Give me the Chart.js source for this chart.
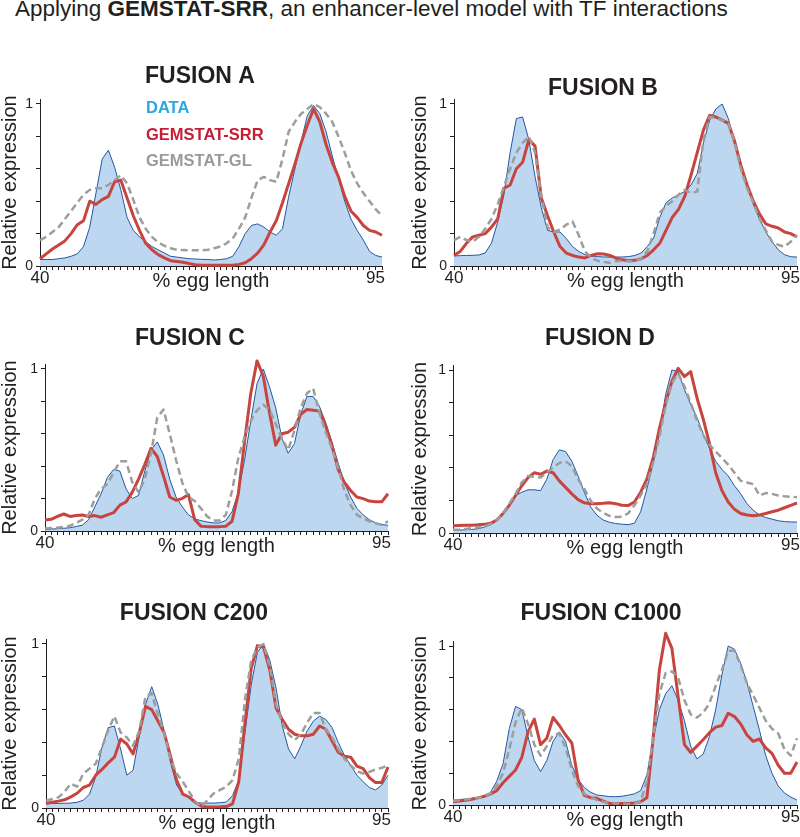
<!DOCTYPE html>
<html>
<head>
<meta charset="utf-8">
<script src="https://cdn.jsdelivr.net/npm/chart.js@4.4.1/dist/chart.umd.min.js"></script>
<style>
  html, body { margin: 0; padding: 0; background: #fff; }
  #page { position: relative; width: 800px; height: 837px; overflow: hidden;
          font-family: "Liberation Sans", Arial, Helvetica, sans-serif; color: #231f20; }
  #head { position: absolute; left: 15px; top: -2px; font-size: 22.5px; line-height: 1; white-space: nowrap; }
  canvas { position: absolute; }
</style>
</head>
<body>
<div id="page">
  <div id="head">Applying <b>GEMSTAT-SRR</b>, an enhancer-level model with TF interactions</div>
</div>
<script>
/* ---- data (1% egg-length bins) ---- */
const EGG_LENGTH = [40, 41, 42, 43, 44, 45, 46, 47, 48, 49, 50, 51, 52, 53, 54, 55, 56, 57, 58, 59,
  60, 61, 62, 63, 64, 65, 66, 67, 68, 69, 70, 71, 72, 73, 74, 75, 76, 77, 78, 79,
  80, 81, 82, 83, 84, 85, 86, 87, 88, 89, 90, 91, 92, 93, 94, 95];
const X_TICK_LABELS = [40, 95];
const Y_TICKS = [0, 0.2, 0.4, 0.6, 0.8, 1];
const Y_TICK_LABELS = [0, 1];
const SERIES_NAMES = ["DATA", "GEMSTAT-SRR", "GEMSTAT-GL"];
const PANEL_TITLES = ["FUSION A", "FUSION B", "FUSION C", "FUSION D", "FUSION C200", "FUSION C1000"];

const A_DATA = [0.04, 0.04, 0.04, 0.045, 0.05, 0.06, 0.075, 0.12, 0.24, 0.45, 0.66, 0.715, 0.61, 0.47, 0.30, 0.22, 0.18, 0.15, 0.12, 0.10,
  0.08, 0.06, 0.055, 0.05, 0.045, 0.043, 0.041, 0.04, 0.037, 0.04, 0.045, 0.06, 0.12, 0.20, 0.25, 0.26, 0.24, 0.21, 0.19, 0.23,
  0.43, 0.60, 0.77, 0.93, 0.99, 0.94, 0.83, 0.68, 0.54, 0.40, 0.29, 0.22, 0.16, 0.09, 0.065, 0.055];
const A_SRR = [0.045, 0.075, 0.105, 0.13, 0.155, 0.20, 0.255, 0.28, 0.40, 0.38, 0.41, 0.43, 0.52, 0.53, 0.42, 0.31, 0.22, 0.14, 0.10, 0.07,
  0.05, 0.033, 0.028, 0.023, 0.015, 0.008, 0.004, 0.004, 0.004, 0.004, 0.004, 0.005, 0.01, 0.02, 0.045, 0.08, 0.13, 0.21, 0.28, 0.39,
  0.51, 0.63, 0.76, 0.87, 0.97, 0.89, 0.75, 0.64, 0.55, 0.43, 0.34, 0.30, 0.25, 0.22, 0.21, 0.19];
const A_GL = [0.16, 0.18, 0.21, 0.24, 0.29, 0.34, 0.39, 0.44, 0.47, 0.48, 0.48, 0.50, 0.53, 0.56, 0.51, 0.41, 0.30, 0.23, 0.18, 0.145,
  0.125, 0.11, 0.10, 0.098, 0.097, 0.097, 0.097, 0.10, 0.11, 0.12, 0.14, 0.17, 0.23, 0.30, 0.42, 0.53, 0.55, 0.53, 0.52, 0.66,
  0.83, 0.89, 0.94, 0.97, 1.0, 0.98, 0.94, 0.89, 0.80, 0.70, 0.59, 0.51, 0.45, 0.40, 0.35, 0.31];

const B_DATA = [0.062, 0.064, 0.065, 0.066, 0.068, 0.08, 0.14, 0.27, 0.44, 0.70, 0.91, 0.92, 0.78, 0.55, 0.36, 0.22, 0.21, 0.21, 0.17, 0.12,
  0.09, 0.07, 0.062, 0.058, 0.056, 0.055, 0.055, 0.056, 0.058, 0.065, 0.08, 0.12, 0.17, 0.30, 0.39, 0.42, 0.44, 0.46, 0.50, 0.57,
  0.76, 0.90, 0.97, 1.0, 0.91, 0.76, 0.62, 0.49, 0.38, 0.29, 0.21, 0.15, 0.10, 0.07, 0.057, 0.055];
const B_SRR = [0.066, 0.09, 0.14, 0.18, 0.19, 0.20, 0.24, 0.29, 0.48, 0.50, 0.60, 0.64, 0.78, 0.74, 0.42, 0.31, 0.21, 0.12, 0.08, 0.065,
  0.055, 0.05, 0.065, 0.076, 0.074, 0.065, 0.048, 0.038, 0.032, 0.035, 0.045, 0.065, 0.10, 0.14, 0.22, 0.30, 0.35, 0.43, 0.56, 0.70,
  0.84, 0.93, 0.92, 0.90, 0.88, 0.77, 0.62, 0.50, 0.40, 0.32, 0.26, 0.245, 0.235, 0.21, 0.20, 0.18];
const B_GL = [0.16, 0.18, 0.16, 0.15, 0.18, 0.23, 0.29, 0.38, 0.49, 0.60, 0.70, 0.76, 0.80, 0.70, 0.43, 0.24, 0.21, 0.225, 0.255, 0.275,
  0.19, 0.09, 0.05, 0.033, 0.025, 0.02, 0.03, 0.033, 0.03, 0.03, 0.045, 0.09, 0.20, 0.33, 0.37, 0.40, 0.44, 0.47, 0.45, 0.46,
  0.78, 0.92, 0.915, 0.90, 0.88, 0.76, 0.60, 0.48, 0.39, 0.29, 0.22, 0.15, 0.13, 0.12, 0.15, 0.19];

const C_DATA = [0.01, 0.012, 0.014, 0.017, 0.02, 0.028, 0.036, 0.07, 0.15, 0.23, 0.33, 0.38, 0.37, 0.26, 0.20, 0.22, 0.37, 0.50, 0.55, 0.47,
  0.32, 0.21, 0.15, 0.10, 0.075, 0.064, 0.056, 0.05, 0.05, 0.065, 0.12, 0.24, 0.44, 0.68, 0.91, 1.0, 0.89, 0.76, 0.57, 0.48,
  0.54, 0.72, 0.83, 0.83, 0.77, 0.67, 0.55, 0.42, 0.30, 0.21, 0.14, 0.10, 0.07, 0.05, 0.04, 0.035];
const C_SRR = [0.068, 0.072, 0.09, 0.105, 0.09, 0.095, 0.099, 0.09, 0.095, 0.085, 0.10, 0.113, 0.16, 0.18, 0.24, 0.32, 0.41, 0.51, 0.46, 0.34,
  0.21, 0.19, 0.20, 0.225, 0.07, 0.03, 0.027, 0.027, 0.027, 0.03, 0.06, 0.23, 0.55, 0.85, 1.05, 0.955, 0.73, 0.53, 0.60, 0.61,
  0.64, 0.72, 0.75, 0.745, 0.74, 0.65, 0.53, 0.38, 0.30, 0.25, 0.21, 0.20, 0.185, 0.18, 0.18, 0.23];
const C_GL = [0.016, 0.018, 0.02, 0.025, 0.032, 0.05, 0.07, 0.10, 0.20, 0.26, 0.29, 0.36, 0.43, 0.43, 0.30, 0.24, 0.32, 0.48, 0.70, 0.75,
  0.60, 0.44, 0.30, 0.21, 0.185, 0.14, 0.09, 0.065, 0.065, 0.10, 0.25, 0.45, 0.58, 0.68, 0.745, 0.78, 0.75, 0.66, 0.57, 0.50,
  0.62, 0.76, 0.85, 0.88, 0.73, 0.61, 0.51, 0.39, 0.25, 0.16, 0.10, 0.078, 0.06, 0.048, 0.038, 0.06];

const D_DATA = [0.016, 0.018, 0.02, 0.022, 0.026, 0.036, 0.05, 0.075, 0.12, 0.17, 0.23, 0.25, 0.265, 0.265, 0.26, 0.33, 0.45, 0.51, 0.50, 0.44,
  0.35, 0.25, 0.16, 0.11, 0.08, 0.066, 0.058, 0.054, 0.051, 0.06, 0.13, 0.27, 0.43, 0.61, 0.85, 1.0, 0.99, 0.88, 0.79, 0.71,
  0.61, 0.52, 0.44, 0.39, 0.35, 0.29, 0.24, 0.18, 0.14, 0.11, 0.095, 0.085, 0.075, 0.07, 0.068, 0.067];
const D_SRR = [0.045, 0.046, 0.047, 0.048, 0.05, 0.053, 0.06, 0.08, 0.12, 0.17, 0.23, 0.29, 0.34, 0.37, 0.36, 0.38, 0.37, 0.32, 0.28, 0.24,
  0.205, 0.185, 0.18, 0.18, 0.182, 0.185, 0.18, 0.17, 0.168, 0.19, 0.25, 0.33, 0.46, 0.64, 0.80, 0.93, 1.01, 0.96, 0.99, 0.83,
  0.70, 0.55, 0.37, 0.26, 0.19, 0.145, 0.12, 0.11, 0.106, 0.11, 0.12, 0.13, 0.14, 0.155, 0.17, 0.184];
const D_GL = [0.02, 0.022, 0.025, 0.03, 0.035, 0.04, 0.055, 0.08, 0.12, 0.18, 0.24, 0.31, 0.35, 0.345, 0.34, 0.37, 0.40, 0.43, 0.44, 0.41,
  0.33, 0.27, 0.20, 0.15, 0.125, 0.105, 0.098, 0.10, 0.12, 0.17, 0.23, 0.30, 0.43, 0.59, 0.78, 0.92, 0.98, 0.90, 0.80, 0.69,
  0.60, 0.54, 0.50, 0.46, 0.42, 0.37, 0.32, 0.31, 0.30, 0.23, 0.245, 0.24, 0.23, 0.225, 0.222, 0.22];

const C200_DATA = [0.027, 0.028, 0.028, 0.029, 0.03, 0.035, 0.047, 0.085, 0.19, 0.37, 0.49, 0.50, 0.36, 0.20, 0.23, 0.44, 0.63, 0.74, 0.63, 0.47,
  0.28, 0.14, 0.085, 0.065, 0.035, 0.03, 0.03, 0.03, 0.032, 0.037, 0.075, 0.17, 0.46, 0.75, 0.95, 1.0, 0.90, 0.73, 0.50, 0.36,
  0.30, 0.38, 0.47, 0.53, 0.56, 0.54, 0.49, 0.40, 0.32, 0.26, 0.20, 0.16, 0.125, 0.11, 0.14, 0.20];
const C200_SRR = [0.027, 0.035, 0.042, 0.05, 0.068, 0.09, 0.125, 0.14, 0.20, 0.235, 0.275, 0.31, 0.42, 0.39, 0.33, 0.46, 0.62, 0.60, 0.53, 0.46,
  0.32, 0.17, 0.085, 0.067, 0.035, 0.01, 0.006, 0.006, 0.007, 0.009, 0.025, 0.16, 0.52, 0.85, 0.99, 0.98, 0.84, 0.61, 0.54, 0.48,
  0.45, 0.44, 0.44, 0.45, 0.50, 0.48, 0.41, 0.34, 0.315, 0.31, 0.255, 0.24, 0.185, 0.155, 0.155, 0.25];
const C200_GL = [0.045, 0.055, 0.065, 0.10, 0.148, 0.13, 0.21, 0.24, 0.27, 0.37, 0.475, 0.56, 0.46, 0.43, 0.38, 0.47, 0.68, 0.70, 0.57, 0.46,
  0.30, 0.21, 0.16, 0.10, 0.04, 0.008, 0.05, 0.09, 0.11, 0.13, 0.17, 0.30, 0.66, 0.90, 0.98, 1.0, 0.86, 0.63, 0.52, 0.45,
  0.415, 0.45, 0.52, 0.58, 0.58, 0.48, 0.43, 0.36, 0.30, 0.26, 0.225, 0.21, 0.22, 0.235, 0.245, 0.26];

const C1000_DATA = [0.031, 0.034, 0.038, 0.042, 0.047, 0.055, 0.08, 0.15, 0.26, 0.48, 0.62, 0.60, 0.43, 0.28, 0.21, 0.28, 0.40, 0.46, 0.40, 0.25,
  0.16, 0.11, 0.08, 0.063, 0.058, 0.053, 0.052, 0.055, 0.062, 0.07, 0.09, 0.19, 0.41, 0.60, 0.70, 0.75, 0.66, 0.53, 0.37, 0.29,
  0.32, 0.43, 0.60, 0.82, 1.0, 0.98, 0.89, 0.77, 0.62, 0.47, 0.31, 0.20, 0.12, 0.075, 0.05, 0.031];
const C1000_SRR = [0.021, 0.025, 0.03, 0.036, 0.045, 0.055, 0.07, 0.09, 0.14, 0.18, 0.22, 0.30, 0.46, 0.54, 0.38, 0.42, 0.55, 0.50, 0.44, 0.39,
  0.157, 0.06, 0.046, 0.042, 0.025, 0.01, 0.01, 0.01, 0.01, 0.012, 0.02, 0.045, 0.42, 0.85, 1.08, 0.985, 0.68, 0.38, 0.33, 0.37,
  0.41, 0.455, 0.49, 0.50, 0.577, 0.556, 0.51, 0.44, 0.40, 0.415, 0.36, 0.325, 0.25, 0.20, 0.20, 0.27];
const C1000_GL = [0.027, 0.03, 0.035, 0.04, 0.045, 0.055, 0.075, 0.12, 0.20, 0.35, 0.52, 0.61, 0.51, 0.38, 0.31, 0.37, 0.44, 0.45, 0.36, 0.22,
  0.12, 0.07, 0.05, 0.03, 0.021, 0.015, 0.01, 0.008, 0.007, 0.01, 0.02, 0.15, 0.42, 0.70, 0.83, 0.84, 0.80, 0.66, 0.57, 0.55,
  0.58, 0.64, 0.75, 0.85, 0.97, 0.97, 0.88, 0.765, 0.69, 0.61, 0.53, 0.48, 0.45, 0.35, 0.31, 0.42];

/* ---- look ---- */
const FONT = '"Liberation Sans", Arial, Helvetica, sans-serif';
const INK = "#231f20";
const FILL = "#bdd7f1";
const OUTLINE = "#24579f";
const RED = "#c8443f";
const GREY = "#9d9d9d";
const LEGEND_COLORS = ["#29a8df", "#c41d34", "#9a9a9a"];
const YMAX = 1.03;
const XH = 25;

/* page placement of each plot: L/R = x of 40 and 95, Y1/Y0 = y of 1 and 0 */
const PANELS = [
  { title: PANEL_TITLES[0], series: [A_DATA, A_SRR, A_GL], col: 0, L: 40, R: 382, Y1: 104, Y0: 266, tx: 200, ty: 83, legend: true },
  { title: PANEL_TITLES[1], series: [B_DATA, B_SRR, B_GL], col: 1, L: 454, R: 797, Y1: 104, Y0: 266, tx: 603, ty: 95 },
  { title: PANEL_TITLES[2], series: [C_DATA, C_SRR, C_GL], col: 0, L: 45, R: 388, Y1: 369, Y0: 531, tx: 190, ty: 345 },
  { title: PANEL_TITLES[3], series: [D_DATA, D_SRR, D_GL], col: 1, L: 453, R: 797, Y1: 370, Y0: 533, tx: 600, ty: 345 },
  { title: PANEL_TITLES[4], series: [C200_DATA, C200_SRR, C200_GL], col: 0, L: 46, R: 388, Y1: 644, Y0: 808, tx: 194, ty: 620 },
  { title: PANEL_TITLES[5], series: [C1000_DATA, C1000_SRR, C1000_GL], col: 1, L: 453, R: 797, Y1: 646, Y0: 805, tx: 601, ty: 620 },
];

/* title, in-plot legend and the two x end labels, drawn as canvas text */
const panelText = {
  id: "panelText",
  afterDraw(chart, args, o) {
    const ctx = chart.ctx;
    const xs = chart.scales.x;
    ctx.save();
    ctx.fillStyle = INK;
    ctx.textBaseline = "alphabetic";
    ctx.textAlign = "center";
    ctx.font = "bold 23px " + FONT;
    ctx.fillText(o.title, o.tx, o.ty);

    // end labels of the x axis: first centred on its tick, last tucked in at the axis end
    ctx.font = "17px " + FONT;
    ctx.textBaseline = "top";
    X_TICK_LABELS.forEach(function (v, i) {
      const px = xs.getPixelForValue(v);
      ctx.textAlign = i === 0 ? "center" : "right";
      ctx.fillText(String(v), i === 0 ? px : px + 3, xs.top + 4);
    });

    if (o.legend) {
      ctx.textBaseline = "alphabetic";
      ctx.textAlign = "left";
      ctx.font = "bold 16.5px " + FONT;
      chart.data.datasets.forEach(function (ds, i) {
        ctx.fillStyle = LEGEND_COLORS[i];
        ctx.fillText(ds.label, o.lx, o.ly + i * 26.5);
      });
    }
    ctx.restore();
  },
};

const page = document.getElementById("page");
const pts = function (vals) { return EGG_LENGTH.map(function (x, i) { return { x: x, y: vals[i] }; }); };

PANELS.forEach(function (p) {
  const cx = p.col * 400;
  const cw = 400;
  const padL = p.col ? 10 : 0;
  const yw = p.L - cx - padL;
  const top = p.Y0 - YMAX * (p.Y0 - p.Y1);
  const ct = p.Y1 - 80;
  const ch = p.Y0 + XH + 4 - ct;

  const canvas = document.createElement("canvas");
  canvas.width = cw;
  canvas.height = ch;
  canvas.style.left = cx + "px";
  canvas.style.top = ct + "px";
  page.appendChild(canvas);

  const tickGrid = { drawOnChartArea: false, drawTicks: true, tickLength: 4, color: INK, lineWidth: 1 };
  const axisLine = { display: true, color: INK, width: 1 };

  new Chart(canvas, {
    type: "line",
    data: {
      datasets: [
        { label: SERIES_NAMES[0], data: pts(p.series[0]), fill: "origin", backgroundColor: FILL,
          borderColor: OUTLINE, borderWidth: 1, order: 3 },
        { label: SERIES_NAMES[1], data: pts(p.series[1]), fill: false, borderColor: RED,
          borderWidth: 3, order: 2 },
        { label: SERIES_NAMES[2], data: pts(p.series[2]), fill: false, borderColor: GREY,
          borderWidth: 2.5, borderDash: [7, 4], order: 1 },
      ],
    },
    options: {
      responsive: false,
      animation: false,
      devicePixelRatio: 1,
      events: [],
      datasets: { line: { pointRadius: 0, tension: 0, clip: false, borderJoinStyle: "round" } },
      layout: { padding: { left: padL, right: cx + cw - p.R, top: top - ct, bottom: ch - (p.Y0 + XH - ct) } },
      plugins: {
        legend: { display: false },
        tooltip: { enabled: false },
        panelText: { title: p.title, tx: p.tx - cx, ty: p.ty - ct, legend: !!p.legend, lx: 146 - cx, ly: 113 - ct },
      },
      scales: {
        x: {
          type: "linear", min: 40, max: 95,
          afterBuildTicks: function (s) { s.ticks = EGG_LENGTH.map(function (v) { return { value: v }; }); },
          afterFit: function (s) { s.height = XH; s.paddingLeft = 0; s.paddingRight = 0; },
          grid: tickGrid,
          border: axisLine,
          ticks: { autoSkip: false, maxRotation: 0, padding: 0, callback: function () { return ""; } },
          title: { display: true, text: "% egg length", color: INK, padding: 0,
                   font: { family: FONT, size: 20, lineHeight: 1 } },
        },
        y: {
          type: "linear", min: 0, max: YMAX,
          afterBuildTicks: function (s) { s.ticks = Y_TICKS.map(function (v) { return { value: v }; }); },
          afterFit: function (s) { s.width = yw; s.paddingTop = 0; s.paddingBottom = 0; },
          grid: tickGrid,
          border: axisLine,
          ticks: {
            autoSkip: false, padding: 3, color: INK,
            font: { family: FONT, size: 14 },
            callback: function (v) { return Y_TICK_LABELS.indexOf(v) >= 0 ? String(v) : ""; },
          },
          title: { display: true, text: "Relative expression", color: INK, padding: 0,
                   font: { family: FONT, size: 20, lineHeight: 1 } },
        },
      },
    },
    plugins: [panelText],
  });
});
</script>
</body>
</html>
